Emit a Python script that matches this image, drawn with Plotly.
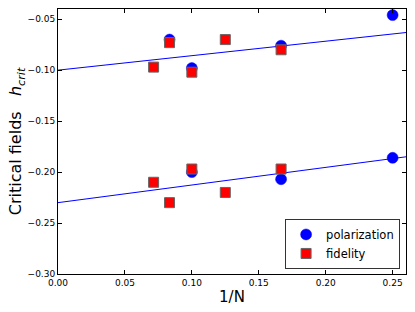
import plotly.graph_objects as go
import numpy as np

# polarization data
pol_x = [1/12, 1/10, 1/6, 1/4, 1/10, 1/6, 1/4]
pol_y = [-0.070, -0.098, -0.076, -0.046, -0.200, -0.207, -0.186]
# fidelity data
fid_x = [1/14, 1/12, 1/10, 1/8, 1/6, 1/14, 1/12, 1/10, 1/8, 1/6]
fid_y = [-0.097, -0.073, -0.102, -0.070, -0.080, -0.210, -0.230, -0.197, -0.220, -0.197]
# linear fits (intercept, slope)
fit_intercepts = [-0.100, -0.230]
fit_slopes = [0.142, 0.173]
x_ticks = [0.0, 0.05, 0.10, 0.15, 0.20, 0.25]
y_ticks = [-0.30, -0.25, -0.20, -0.15, -0.10, -0.05]

fig = go.Figure()
xx = np.array([0.0, 0.26])
for b, m in zip(fit_intercepts, fit_slopes):
    fig.add_trace(go.Scatter(x=xx, y=b + m * xx, mode="lines",
                             line=dict(color="#0000ff", width=1), showlegend=False,
                             hoverinfo="skip"))
fig.add_trace(go.Scatter(x=pol_x, y=pol_y, mode="markers", name="polarization",
                         marker=dict(symbol="circle", size=11, color="#0000ff",
                                     line=dict(color="#0000ff", width=0.5))))
fig.add_trace(go.Scatter(x=fid_x, y=fid_y, mode="markers", name="fidelity",
                         marker=dict(symbol="square", size=10, color="#ff0000",
                                     line=dict(color="#666666", width=1))))

axis_common = dict(showgrid=False, zeroline=False, showline=True, mirror="ticks",
                   linecolor="black", linewidth=1, ticks="inside", ticklen=4,
                   tickcolor="black", automargin=False,
                   tickfont=dict(family="DejaVu Sans", size=9, color="black"))
fig.update_xaxes(range=[0, 0.26], tickvals=x_ticks,
                 ticktext=[f"{v:.2f}" for v in x_ticks],
                 title=dict(text="1/N", font=dict(family="DejaVu Sans", size=15, color="black"),
                            standoff=4),
                 **axis_common)
fig.update_yaxes(range=[-0.30, -0.04], tickvals=y_ticks,
                 ticktext=[f"\u2212{abs(v):.2f}" for v in y_ticks],
                 title=dict(text="Critical fields   <i>h</i><sub><i>crit</i></sub>",
                            font=dict(family="DejaVu Sans", size=16, color="black"),
                            standoff=0),
                 **axis_common)
fig.update_layout(
    width=415, height=312,
    margin=dict(l=58, r=9, t=9, b=38),
    plot_bgcolor="white", paper_bgcolor="white",
    font=dict(family="DejaVu Sans", color="black"),
    legend=dict(x=0.983, y=0.019, xanchor="right", yanchor="bottom",
                bordercolor="#333333", borderwidth=1, bgcolor="white",
                font=dict(family="DejaVu Sans", size=11.5, color="black"),
                itemwidth=30, tracegroupgap=0),
)
fig.write_html("out.html", config={"displayModeBar": False},
               post_script="document.body.style.margin='0';document.body.style.padding='0';")
